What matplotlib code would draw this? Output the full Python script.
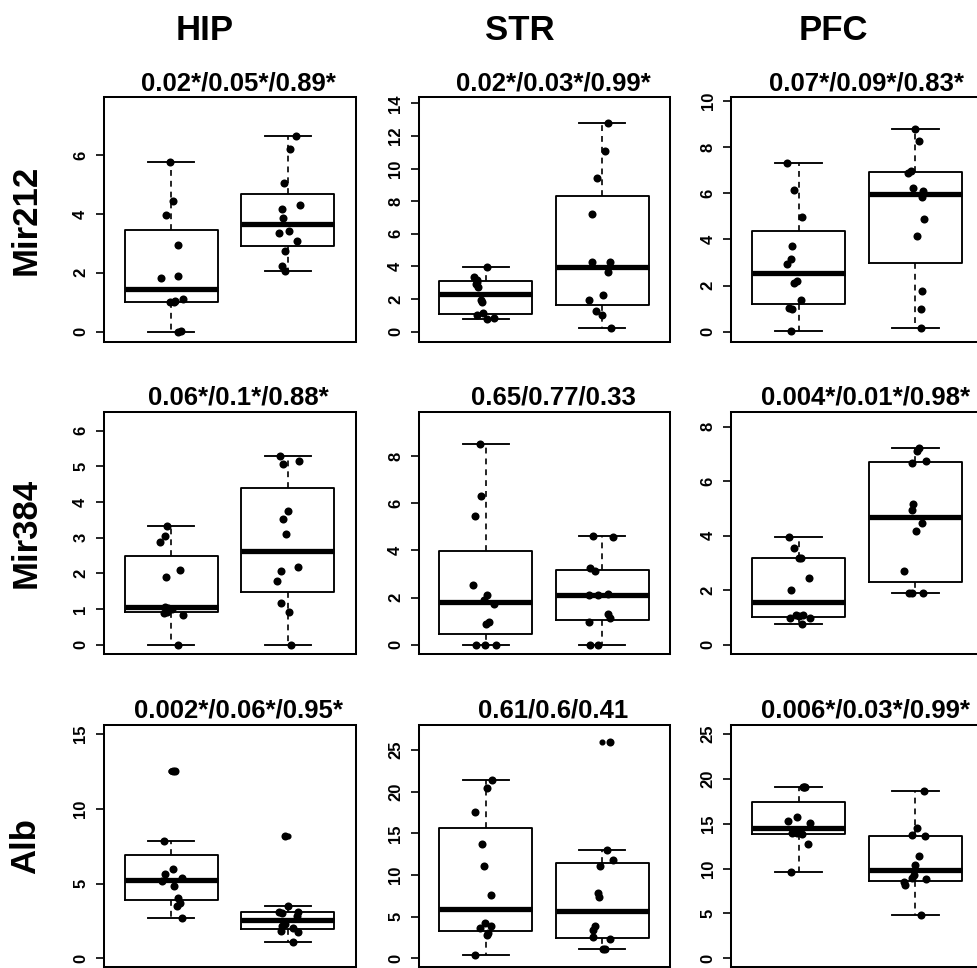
import numpy as np
import matplotlib
matplotlib.use('Agg')
import matplotlib.pyplot as plt

plt.rcParams['font.family'] = ['Liberation Sans', 'DejaVu Sans']
plt.rcParams['font.weight'] = 'bold'

# ---------------- data ----------------
regions = ['HIP', 'STR', 'PFC']
genes = ['Mir212', 'Mir384', 'Alb']

titles = [
    ['0.02*/0.05*/0.89*', '0.02*/0.03*/0.99*', '0.07*/0.09*/0.83*'],
    ['0.06*/0.1*/0.88*', '0.65/0.77/0.33', '0.004*/0.01*/0.98*'],
    ['0.002*/0.06*/0.95*', '0.61/0.6/0.41', '0.006*/0.03*/0.99*'],
]

# values (group 1, group 2) for each gene x region
HIP_Mir212_g1 = [5.77, 4.44, 3.96, 2.94, 1.81, 1.88, 1.00, 1.02, 1.05, 1.10, 0.00, 0.02]
HIP_Mir212_g2 = [6.65, 6.19, 5.06, 4.30, 4.17, 3.86, 3.43, 3.34, 3.08, 2.74, 2.22, 2.07]
STR_Mir212_g1 = [3.99, 3.37, 3.20, 3.05, 2.92, 2.72, 1.94, 1.84, 1.12, 1.02, 0.82, 0.76]
STR_Mir212_g2 = [12.81, 11.08, 9.40, 7.21, 4.29, 4.29, 3.68, 2.25, 1.94, 1.29, 1.02, 0.20]
PFC_Mir212_g1 = [7.31, 6.13, 4.99, 3.71, 3.15, 2.95, 2.18, 2.11, 1.38, 1.02, 0.97, 0.04]
PFC_Mir212_g2 = [8.79, 8.28, 6.95, 6.88, 6.25, 6.10, 5.84, 4.87, 4.17, 1.77, 0.99, 0.15]

HIP_Mir384_g1 = [3.34, 3.06, 2.87, 2.09, 1.90, 1.07, 1.02, 0.99, 0.93, 0.88, 0.83, 0.00]
HIP_Mir384_g2 = [5.29, 5.06, 5.15, 3.74, 3.51, 3.10, 2.17, 2.07, 1.79, 1.16, 0.91, 0.00]
STR_Mir384_g1 = [8.49, 6.32, 5.44, 2.52, 2.11, 1.92, 1.75, 0.95, 0.90, 0.00, 0.00, 0.00]
STR_Mir384_g2 = [4.61, 4.58, 3.24, 3.12, 2.15, 2.11, 2.11, 1.29, 1.12, 0.95, 0.00, 0.00]
PFC_Mir384_g1 = [3.96, 3.54, 3.20, 3.17, 2.45, 2.01, 1.09, 1.09, 1.05, 0.99, 0.99, 0.75]
PFC_Mir384_g2 = [7.23, 7.11, 6.74, 6.65, 5.16, 4.94, 4.45, 4.17, 2.70, 1.91, 1.91, 1.88]

HIP_Alb_g1 = [12.53, 12.50, 7.84, 5.97, 5.62, 5.35, 5.17, 4.86, 4.06, 3.68, 3.50, 2.72]
HIP_Alb_g2 = [8.18, 3.50, 3.08, 3.01, 3.08, 2.83, 2.27, 2.18, 2.05, 1.85, 1.78, 1.07]
STR_Alb_g1 = [21.40, 20.40, 17.52, 13.72, 11.08, 7.56, 4.28, 3.88, 3.60, 3.00, 2.76, 0.40]
STR_Alb_g2 = [26.00, 13.00, 11.80, 11.08, 7.80, 7.32, 3.92, 3.40, 2.60, 2.32, 1.12, 1.12]
PFC_Alb_g1 = [19.09, 19.09, 19.09, 15.79, 15.30, 15.04, 14.10, 14.00, 13.93, 13.86, 12.74, 9.62]
PFC_Alb_g2 = [18.65, 14.56, 13.74, 13.63, 11.40, 10.40, 9.29, 8.92, 8.84, 8.47, 8.17, 4.83]

# horizontal jitter of each point
HIP_Mir212_j1 = [-0.008, 0.012, -0.042, 0.055, -0.088, 0.055, -0.008, 0.02, 0.035, 0.10, 0.055, 0.084]
HIP_Mir212_j2 = [0.069, 0.02, -0.029, 0.103, -0.049, -0.04, 0.009, -0.077, 0.08, -0.026, -0.052, -0.023]
STR_Mir212_j1 = [0.013, -0.10, -0.08, -0.076, -0.087, -0.067, -0.045, -0.033, -0.025, -0.076, 0.07, 0.01]
STR_Mir212_j2 = [0.055, 0.021, -0.047, -0.087, -0.087, 0.067, 0.047, 0.004, -0.11, -0.053, -0.005, 0.075]
PFC_Mir212_j1 = [-0.097, -0.043, 0.029, -0.057, -0.066, -0.097, -0.011, -0.04, 0.02, -0.086, -0.06, -0.063]
PFC_Mir212_j2 = [0.0, 0.035, -0.04, -0.06, -0.02, 0.065, 0.06, 0.074, 0.014, 0.054, 0.046, 0.046]

HIP_Mir384_j1 = [-0.033, -0.053, -0.096, 0.075, -0.045, -0.053, -0.025, 0.004, -0.039, -0.062, 0.098, 0.061]
HIP_Mir384_j2 = [-0.067, -0.039, 0.098, -0.002, -0.039, -0.019, 0.09, -0.062, -0.096, -0.062, 0.01, 0.027]
STR_Mir384_j1 = [-0.053, -0.039, -0.096, -0.11, 0.013, -0.019, 0.067, 0.024, 0.004, -0.087, -0.01, 0.084]
STR_Mir384_j2 = [-0.076, 0.09, -0.105, -0.059, 0.047, -0.11, -0.039, 0.053, 0.067, -0.11, -0.105, -0.039]
PFC_Mir384_j1 = [-0.083, -0.04, 0.017, 0.003, 0.091, -0.069, -0.026, 0.04, 0.006, -0.074, 0.097, 0.031]
PFC_Mir384_j2 = [0.034, 0.017, 0.089, -0.026, -0.017, -0.031, 0.06, 0.003, -0.097, -0.054, -0.026, 0.069]

HIP_Alb_j1 = [0.018, 0.033, -0.062, 0.013, -0.053, 0.095, -0.082, 0.027, 0.061, 0.075, 0.047, 0.095]
HIP_Alb_j2 = [-0.025, 0.004, -0.076, -0.053, 0.09, 0.081, -0.025, -0.053, 0.041, -0.062, 0.09, 0.047]
STR_Alb_j1 = [0.053, 0.013, -0.093, -0.033, -0.019, 0.041, -0.01, 0.047, -0.053, 0.018, 0.01, -0.096]
STR_Alb_j2 = [0.07, 0.038, 0.09, -0.019, -0.033, -0.03, -0.065, -0.082, -0.076, 0.07, 0.004, 0.027]
PFC_Alb_j1 = [0.046, 0.04, 0.05, -0.011, -0.089, 0.097, -0.03, -0.06, -0.017, 0.031, 0.083, -0.066]
PFC_Alb_j2 = [0.077, 0.017, -0.031, 0.083, 0.031, 0.0, -0.011, -0.026, 0.089, -0.097, -0.089, 0.046]

values = {
    ('Mir212', 'HIP'): (HIP_Mir212_g1, HIP_Mir212_g2, HIP_Mir212_j1, HIP_Mir212_j2),
    ('Mir212', 'STR'): (STR_Mir212_g1, STR_Mir212_g2, STR_Mir212_j1, STR_Mir212_j2),
    ('Mir212', 'PFC'): (PFC_Mir212_g1, PFC_Mir212_g2, PFC_Mir212_j1, PFC_Mir212_j2),
    ('Mir384', 'HIP'): (HIP_Mir384_g1, HIP_Mir384_g2, HIP_Mir384_j1, HIP_Mir384_j2),
    ('Mir384', 'STR'): (STR_Mir384_g1, STR_Mir384_g2, STR_Mir384_j1, STR_Mir384_j2),
    ('Mir384', 'PFC'): (PFC_Mir384_g1, PFC_Mir384_g2, PFC_Mir384_j1, PFC_Mir384_j2),
    ('Alb', 'HIP'): (HIP_Alb_g1, HIP_Alb_g2, HIP_Alb_j1, HIP_Alb_j2),
    ('Alb', 'STR'): (STR_Alb_g1, STR_Alb_g2, STR_Alb_j1, STR_Alb_j2),
    ('Alb', 'PFC'): (PFC_Alb_g1, PFC_Alb_g2, PFC_Alb_j1, PFC_Alb_j2),
}

yticks = [
    [[0, 2, 4, 6], [0, 2, 4, 6, 8, 10, 12, 14], [0, 2, 4, 6, 8, 10]],
    [[0, 1, 2, 3, 4, 5, 6], [0, 2, 4, 6, 8], [0, 2, 4, 6, 8]],
    [[0, 5, 10, 15], [0, 5, 10, 15, 20, 25], [0, 5, 10, 15, 20, 25]],
]
ylims = [
    [(-0.33, 7.96), (-0.60, 14.37), (-0.43, 10.17)],
    [(-0.26, 6.53), (-0.39, 9.88), (-0.34, 8.55)],
    [(-0.60, 15.60), (-1.08, 28.0), (-1.00, 26.0)],
]

# ---------------- layout (pixels) ----------------
W, H = 977, 968
col_x = [(103.5, 355.5), (418.5, 669.5), (731.0, 983.0)]
row_y = [(97.3, 341.5), (411.7, 654.0), (725.0, 967.3)]


def fivenum_stats(v):
    x = np.sort(np.asarray(v, dtype=float))
    n = len(x)
    n4 = np.floor((n + 3) / 2) / 2
    d = np.array([1, n4, (n + 1) / 2, n + 1 - n4, n])
    f = 0.5 * (x[np.floor(d).astype(int) - 1] + x[np.ceil(d).astype(int) - 1])
    iqr = f[3] - f[1]
    lo, hi = f[1] - 1.5 * iqr, f[3] + 1.5 * iqr
    inside = x[(x >= lo) & (x <= hi)]
    fl = x[(x < lo) | (x > hi)]
    return dict(med=f[2], q1=f[1], q3=f[3], whislo=inside.min(), whishi=inside.max(), fliers=fl)


fig = plt.figure(figsize=(W / 100, H / 100), dpi=100)

for r, gene in enumerate(genes):
    for c, reg in enumerate(regions):
        x0, x1 = col_x[c]
        y0, y1 = row_y[r]
        ax = fig.add_axes([x0 / W, 1 - y1 / H, (x1 - x0) / W, (y1 - y0) / H])
        g1, g2, j1, j2 = values[(gene, reg)]
        stats = [fivenum_stats(g1), fivenum_stats(g2)]
        ax.bxp(stats, positions=[1, 2], widths=0.8, capwidths=0.4,
               boxprops=dict(color='black', linewidth=1.35),
               whiskerprops=dict(color='black', linewidth=1.2, linestyle=(0, (3.5, 3))),
               capprops=dict(color='black', linewidth=1.35),
               medianprops=dict(color='black', linewidth=3.8, solid_capstyle='butt'),
               flierprops=dict(marker='o', markersize=3.4, markerfacecolor='black',
                               markeredgecolor='black', linestyle='none'),
               manage_ticks=False)
        for pos, g, j in ((1, g1, j1), (2, g2, j2)):
            ax.plot(pos + np.asarray(j), g, 'o', color='black', markersize=5.8,
                    markeredgewidth=0, zorder=5, clip_on=False)
        ax.set_xlim(0.42, 2.58)
        ax.set_ylim(*ylims[r][c])
        ax.set_xticks([])
        ax.set_yticks(yticks[r][c])
        ax.set_yticklabels([str(t) for t in yticks[r][c]], rotation=90, va='center',
                           fontsize=12, fontweight='bold')
        ax.tick_params(axis='y', length=6, width=1.2, pad=5)
        for s in ax.spines.values():
            s.set_linewidth(1.45)
        # panel title
        fig.text((0.5 * (x0 + x1) + 9) / W, 1 - (y0 - 7) / H, titles[r][c],
                 ha='center', va='baseline', fontsize=18.5, fontweight='bold')

# column headers
header_x = [205, 520, 833]
for c, reg in enumerate(regions):
    fig.text(header_x[c] / W, 1 - 30 / H, reg, ha='center', va='center',
             fontsize=25, fontweight='bold')
# row labels
for r, gene in enumerate(genes):
    yc = 0.5 * (row_y[r][0] + row_y[r][1])
    fig.text(26 / W, 1 - yc / H, gene, ha='center', va='center', rotation=90,
             fontsize=25, fontweight='bold')

fig.savefig('out.png', dpi=100, facecolor='white')
